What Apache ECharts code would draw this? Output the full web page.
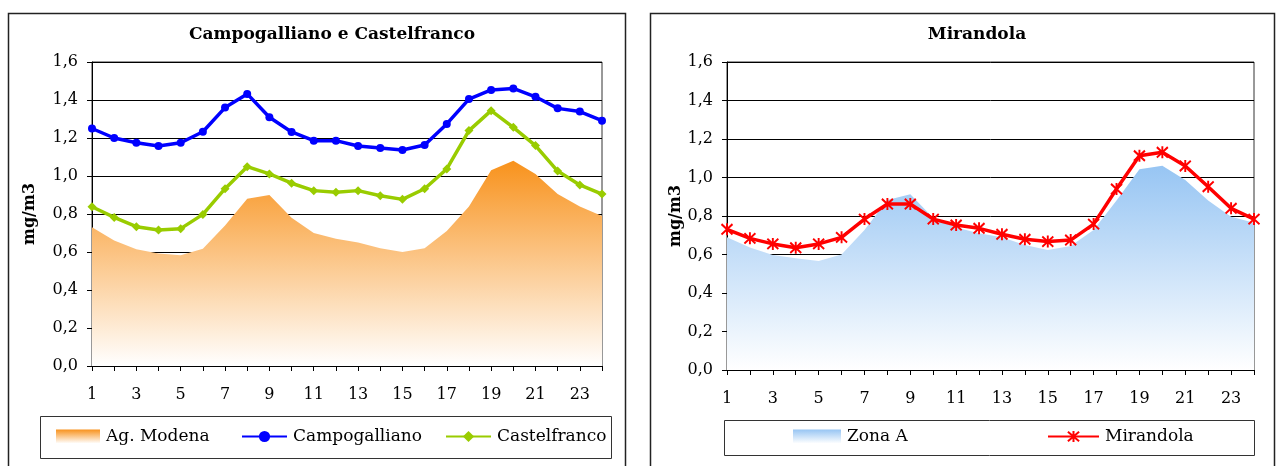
<!DOCTYPE html>
<html>
<head>
<meta charset="utf-8">
<script src="https://cdn.jsdelivr.net/npm/echarts@6/dist/echarts.min.js"></script>
<style>
html,body{margin:0;padding:0;background:#fff;}
#c{width:1276px;height:466px;}
</style>
</head>
<body>
<div id="c"></div>
<script>
const hours = ['1','2','3','4','5','6','7','8','9','10','11','12','13','14','15','16','17','18','19','20','21','22','23','24'];
const yTicks = [0, 0.2, 0.4, 0.6, 0.8, 1.0, 1.2, 1.4, 1.6];
const agModena = [0.73,0.66,0.615,0.592,0.583,0.617,0.74,0.88,0.90,0.78,0.70,0.67,0.65,0.62,0.60,0.62,0.71,0.84,1.03,1.08,1.01,0.905,0.84,0.79];
const campogalliano = [1.25,1.20,1.175,1.158,1.175,1.233,1.36,1.432,1.309,1.232,1.186,1.186,1.158,1.147,1.137,1.163,1.274,1.405,1.453,1.461,1.417,1.356,1.339,1.291];
const castelfranco = [0.838,0.782,0.733,0.716,0.723,0.798,0.933,1.049,1.011,0.962,0.923,0.914,0.923,0.896,0.877,0.933,1.037,1.239,1.344,1.256,1.16,1.026,0.953,0.905];
const zonaA = [0.69,0.637,0.597,0.58,0.566,0.60,0.727,0.883,0.913,0.79,0.74,0.71,0.69,0.649,0.623,0.644,0.727,0.88,1.043,1.061,0.987,0.88,0.796,0.765];
const mirandola = [0.731,0.684,0.655,0.635,0.655,0.689,0.784,0.862,0.862,0.784,0.753,0.736,0.705,0.679,0.667,0.675,0.758,0.94,1.113,1.131,1.06,0.952,0.84,0.784];

const FONT = '"DejaVu Serif","Liberation Serif",serif';
const chart = echarts.init(document.getElementById('c'), null, {renderer: 'canvas'});

function grad(top) {
  return new echarts.graphic.LinearGradient(0, 0, 0, 1, [
    {offset: 0, color: top}, {offset: 1, color: '#ffffff'}
  ]);
}
const orangeTop = '#f8921c';
const blueTop = '#97c5f3';
const starPath = 'path://M0,-5L0,5M-4.3,-4.3L4.3,4.3M4.3,-4.3L-4.3,4.3';

function xAxisCfg(gi) {
  return {
    gridIndex: gi, type: 'category', data: hours, boundaryGap: false,
    axisLine: {lineStyle: {color: '#000', width: 1}},
    axisTick: {interval: 0, length: 5, lineStyle: {color: '#000'}},
    axisLabel: {interval: 1, margin: 21, color: '#000', fontFamily: FONT, fontSize: 16},
    splitLine: {show: false}
  };
}
function yAxisCfg(gi, gap) {
  return {
    gridIndex: gi, type: 'value', min: yTicks[0], max: yTicks[yTicks.length - 1], interval: 0.2,
    name: 'mg/m3', nameLocation: 'middle', nameGap: gap, nameRotate: 90,
    nameTextStyle: {fontFamily: FONT, fontWeight: 'bold', fontSize: 16, color: '#000'},
    axisLine: {show: true, lineStyle: {color: '#000'}},
    axisTick: {show: true, length: 5, lineStyle: {color: '#000'}},
    axisLabel: {margin: 14, color: '#000', fontFamily: FONT, fontSize: 16,
      formatter: v => v.toFixed(1).replace('.', ',')},
    splitLine: {show: true, lineStyle: {color: '#000', width: 1}}
  };
}
function legendCfg(name, left, w, item) {
  return {
    data: [item || name], left: left, top: 428, padding: 0,
    itemWidth: w, itemHeight: 14, itemGap: 0,
    textStyle: {fontFamily: FONT, fontSize: 17, color: '#000', padding: [0, 0, 0, 1]},
    selectedMode: false
  };
}

const option = {
  animation: false,
  backgroundColor: '#fff',
  title: [
    {text: 'Campogalliano e Castelfranco', left: 327, top: 21, textAlign: 'center',
      textStyle: {fontFamily: FONT, fontWeight: 'bold', fontSize: 17, color: '#000'}},
    {text: 'Mirandola', left: 972, top: 21, textAlign: 'center',
      textStyle: {fontFamily: FONT, fontWeight: 'bold', fontSize: 17, color: '#000'}}
  ],
  grid: [
    {left: 92, top: 62, width: 510, height: 304, show: true, borderColor: '#333', borderWidth: 1, backgroundColor: 'transparent'},
    {left: 727, top: 62, width: 527, height: 308, show: true, borderColor: '#333', borderWidth: 1, backgroundColor: 'transparent'}
  ],
  xAxis: [xAxisCfg(0), xAxisCfg(1)],
  yAxis: [yAxisCfg(0, 54), yAxisCfg(1, 43)],
  legend: [
    legendCfg('Ag. Modena', 56, 44, {name: 'Ag. Modena', icon: 'rect', itemStyle: {color: grad(orangeTop)}}),
    legendCfg('Campogalliano', 241, 45),
    legendCfg('Castelfranco', 445, 45),
    legendCfg('Zona A', 793, 48, {name: 'Zona A', icon: 'rect', itemStyle: {color: grad(blueTop)}}),
    legendCfg('Mirandola', 1047, 51)
  ],
  graphic: [
    {type: 'polyline', shape: {points: [[8.5, 466], [8.5, 13.5], [625.5, 13.5], [625.5, 466]]}, style: {stroke: '#222', lineWidth: 1.5, fill: null}, silent: true},
    {type: 'polyline', shape: {points: [[650.5, 466], [650.5, 13.5], [1274.5, 13.5], [1274.5, 466]]}, style: {stroke: '#222', lineWidth: 1.5, fill: null}, silent: true},
    {type: 'rect', shape: {x: 40.5, y: 416.5, width: 571, height: 42}, style: {stroke: '#333', lineWidth: 1, fill: null}, silent: true},
    {type: 'rect', shape: {x: 724.5, y: 420.5, width: 530, height: 35}, style: {stroke: '#333', lineWidth: 1, fill: null}, silent: true}
  ],
  series: [
    {name: 'Ag. Modena', type: 'line', xAxisIndex: 0, yAxisIndex: 0, data: agModena,
      symbol: 'none', lineStyle: {width: 0}, itemStyle: {color: orangeTop},
      areaStyle: {color: grad(orangeTop), opacity: 1}, z: 1},
    {name: 'Campogalliano', type: 'line', xAxisIndex: 0, yAxisIndex: 0, data: campogalliano,
      symbol: 'circle', symbolSize: 8, lineStyle: {color: '#0000ff', width: 3.5},
      itemStyle: {color: '#0000ff'}, z: 3},
    {name: 'Castelfranco', type: 'line', xAxisIndex: 0, yAxisIndex: 0, data: castelfranco,
      symbol: 'diamond', symbolSize: 9, lineStyle: {color: '#99cc00', width: 3.5},
      itemStyle: {color: '#99cc00'}, z: 3},
    {name: 'Zona A', type: 'line', xAxisIndex: 1, yAxisIndex: 1, data: zonaA,
      symbol: 'none', lineStyle: {width: 0}, itemStyle: {color: blueTop},
      areaStyle: {color: grad(blueTop), opacity: 1}, z: 1},
    {name: 'Mirandola', type: 'line', xAxisIndex: 1, yAxisIndex: 1, data: mirandola,
      symbol: starPath, symbolSize: [11, 12], showAllSymbol: true,
      lineStyle: {color: '#ff0000', width: 3.5},
      itemStyle: {color: 'rgba(0,0,0,0)', borderColor: '#ff0000', borderWidth: 2}, z: 3}
  ]
};
chart.setOption(option);
</script>
</body>
</html>
